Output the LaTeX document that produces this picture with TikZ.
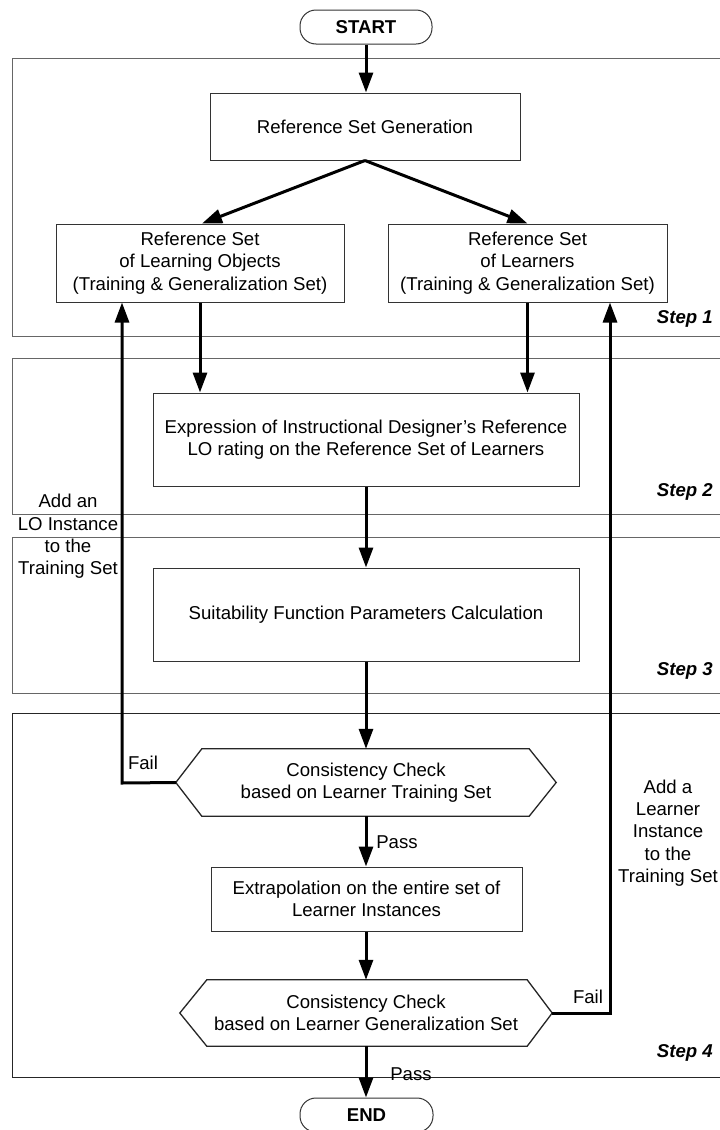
\documentclass[tikz,border=0pt]{standalone}
\usepackage{fontspec}
\setmainfont{Liberation Sans}
\usetikzlibrary{arrows.meta}
\begin{document}
\begin{tikzpicture}[x=1pt,y=-1pt,
  every node/.style={font=\fontsize{18.6}{22.4}\selectfont},
  panel/.style={draw=black!60,line width=1pt},
  proc/.style={draw=black!80,line width=1pt,align=center,inner sep=0pt},
  term/.style={proc,rounded corners=16pt,font=\fontsize{18.6}{22.4}\selectfont\bfseries},
  hexbox/.style={align=center,inner sep=0pt},
  hexline/.style={draw=black!85,line width=1.3pt},
  flow/.style={line width=3pt,-{Triangle[length=20pt,width=14pt]}},
  loop/.style={line width=3pt,-{Triangle[length=20pt,width=14pt]}},
  lbl/.style={inner sep=0pt,align=center},
  steplbl/.style={inner sep=0pt,anchor=east,font=\fontsize{18.6}{22.4}\selectfont\bfseries\itshape}
]
\useasboundingbox (0,0) rectangle (720,1130);
\fill[white] (0,0) rectangle (720,1130);

% panels
\draw[panel] (740,58) -- (12,58) -- (12,336) -- (740,336);
\draw[panel] (740,358) -- (12,358) -- (12,514) -- (740,514);
\draw[panel] (740,537) -- (12,537) -- (12,693) -- (740,693);
\draw[draw=black!85,line width=0.9pt] (740,713) -- (12,713) -- (12,1077) -- (740,1077);

\node[steplbl] (s1) at (713,319) {Step 1};
\node[steplbl] (s2) at (713,492) {Step 2};
\node[steplbl] (s3) at (713,671) {Step 3};
\node[steplbl] (s4) at (713,1053) {Step 4};

% nodes
\node[term,minimum width=132pt,minimum height=34pt] (start) at (366,27) {START};
\node[proc,minimum width=310pt,minimum height=67pt] (rsg) at (365,126.5) {Reference Set Generation};
\node[proc,minimum width=288pt,minimum height=78pt] (lo) at (200,263) {Reference Set\\of Learning Objects\\(Training \& Generalization Set)};
\node[proc,minimum width=279pt,minimum height=78pt] (lr) at (527.5,263) {Reference Set\\of Learners\\(Training \& Generalization Set)};
\node[proc,minimum width=426pt,minimum height=93pt] (expr) at (366,439.5) {Expression of Instructional Designer's Reference\\LO rating on the Reference Set of Learners};
\node[proc,minimum width=426pt,minimum height=93pt] (suit) at (366,614.5) {Suitability Function Parameters Calculation};

\node[hexbox,minimum width=380pt,minimum height=67pt] (cc1) at (366,782.5) {Consistency Check\\based on Learner Training Set};
\draw[hexline] (cc1.west) -- ([xshift=26pt]cc1.north west) -- ([xshift=-27pt]cc1.north east) -- (cc1.east) -- ([xshift=-27pt]cc1.south east) -- ([xshift=26pt]cc1.south west) -- cycle;

\node[proc,minimum width=311pt,minimum height=64pt] (ext) at (366.5,899) {Extrapolation on the entire set of\\Learner Instances};

\node[hexbox,minimum width=372pt,minimum height=66pt] (cc2) at (366,1013) {Consistency Check\\based on Learner Generalization Set};
\draw[hexline] (cc2.west) -- ([xshift=27pt]cc2.north west) -- ([xshift=-25pt]cc2.north east) -- (cc2.east) -- ([xshift=-25pt]cc2.south east) -- ([xshift=27pt]cc2.south west) -- cycle;

\node[term,minimum width=133pt,minimum height=34pt] (end) at (366.5,1115) {END};

% connectors
\draw[flow] (start.south) -- (rsg.north -| start.south);
\draw[flow] (rsg.south) -- ([xshift=2pt]lo.north);
\draw[flow] (rsg.south) -- (lr.north);
\draw[flow] (lo.south) -- (expr.north -| lo.south);
\draw[flow] (lr.south) -- (expr.north -| lr.south);
\draw[flow] (expr.south) -- (suit.north);
\draw[flow] (suit.south) -- (cc1.north);
\draw[flow] (cc1.south) -- (ext.north -| cc1.south);
\draw[flow] (ext.south -| cc1.south) -- (cc2.north);
\draw[flow] (cc2.south) -- (end.north -| cc2.south);

\coordinate (lo1) at (122,783);
\coordinate (lr1) at (610,1013);
\draw[loop] (cc1.west) -- (lo1) -- (lo1 |- lo.south);
\draw[loop] (cc2.east) -- (lr1) -- (lr1 |- lr.south);

% labels
\node[lbl] (addlo) at (68,536.5) {Add an\\LO Instance\\to the\\Training Set};
\node[lbl] (addlr) at (668,833) {Add a\\Learner\\Instance\\to the\\Training Set};
\node[lbl] (fail1) at (143,763) {Fail};
\node[lbl] (fail2) at (588,997) {Fail};
\node[lbl] (pass1) at (397,842) {Pass};
\node[lbl] (pass2) at (411,1074) {Pass};
\end{tikzpicture}
\end{document}
